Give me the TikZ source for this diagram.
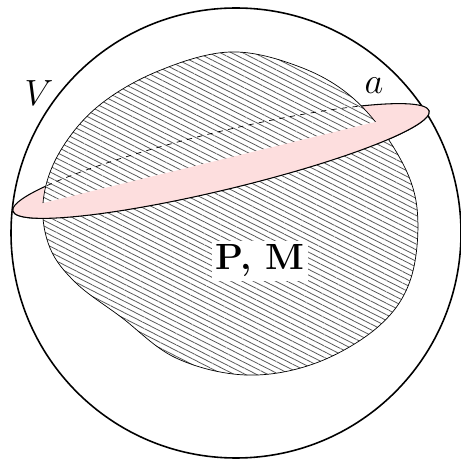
\documentclass[tikz,border=0pt]{standalone}
\usetikzlibrary{patterns.meta}
\definecolor{lenspink}{RGB}{253,222,222}
\def\blob{plot[smooth cycle,tension=0.6] coordinates {(-0.12,3.62) (1.28,3.32) (2.36,2.68) (3.22,1.60) (3.62,0.50) (3.50,-0.90) (2.86,-1.86) (1.60,-2.60) (0.20,-2.84) (-1.20,-2.50) (-2.30,-1.68) (-3.20,-1.00) (-3.72,-0.30) (-3.86,0.60) (-3.56,1.56) (-2.80,2.50) (-1.60,3.22)}}
\def\lens{[rotate around={13.5:(-0.30,1.44)}] (-0.30,1.44) ellipse (4.28 and 0.58)}
\begin{document}
\begin{tikzpicture}[hatch/.style={pattern={Lines[angle=-27,distance=2.9pt,line width=0.45pt]},pattern color=black!65}]
\useasboundingbox (-4.72,-4.56) rectangle (4.50,4.66);
% outer ball
\draw[line width=0.9pt] (0,0) circle (4.5);
% plane section, back part
\draw[fill=lenspink,line width=0.6pt] \lens;
% region P, M
\fill[white] \blob;
\fill[hatch] \blob;
\draw[line width=0.4pt] \blob;
% front part of the section
\begin{scope}
\clip (-5,0.32) -- (5,2.76) -- (5,-5) -- (-5,-5) -- cycle;
\fill[lenspink] \lens;
\draw[line width=0.6pt] \lens;
\end{scope}
% hidden rim
\begin{scope}
\clip \blob;
\clip (-5,0.32) -- (5,2.76) -- (5,5) -- (-5,5) -- cycle;
\draw[dashed,line width=0.4pt] \lens;
\end{scope}
\node[fill=white,inner sep=2pt] (pm) at (0.48,-0.56) {\huge\bfseries P, M};
\node (vlab) at (-3.94,2.80) {\huge$V$};
\node (alab) at (2.76,2.94) {\huge$a$};
\end{tikzpicture}
\end{document}
